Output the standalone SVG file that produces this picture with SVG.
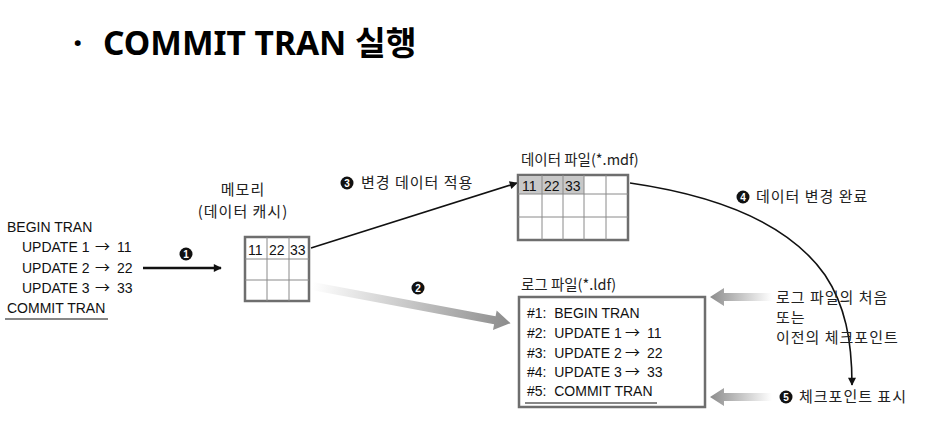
<svg xmlns="http://www.w3.org/2000/svg" width="928" height="428" viewBox="0 0 928 428">
<defs>
<style>
.t{font-family:"Liberation Sans",Arial,sans-serif;font-size:14px;fill:#111}
.a{font-family:"Noto Sans CJK KR","DejaVu Sans",sans-serif;font-size:15px}
.k{font-family:"Noto Sans CJK KR","Noto Sans",sans-serif;font-size:15px;letter-spacing:1px;fill:#222}
.f{font-family:"Noto Sans CJK KR","Noto Sans",sans-serif;font-size:14.5px;fill:#222}
.n{font-family:"Liberation Sans",Arial,sans-serif;font-size:10px;font-weight:bold;fill:#fff;text-anchor:middle}
.outer{fill:#fff;stroke:#6e6e6e;stroke-width:2.5}
.inner{stroke:#8a8a8a;stroke-width:1;fill:none}
.ln{stroke:#111;fill:none}
</style>
<marker id="ahs" viewBox="0 0 10 10" refX="9" refY="5" markerWidth="9" markerHeight="8" orient="auto" markerUnits="userSpaceOnUse">
<path d="M0,0 L10,5 L0,10 z" fill="#111"/>
</marker>
<linearGradient id="g2" x1="0" y1="0" x2="1" y2="0">
<stop offset="0" stop-color="#fff"/>
<stop offset="1" stop-color="#8c8c8c"/>
</linearGradient>
<linearGradient id="gl" x1="0" y1="0" x2="1" y2="0">
<stop offset="0" stop-color="#8c8c8c"/>
<stop offset="1" stop-color="#fff"/>
</linearGradient>
</defs>
<rect width="928" height="428" fill="#fff"/>

<g id="title" style="font-family:'Noto Sans','Noto Sans CJK KR',sans-serif;font-size:33.5px;font-weight:bold;fill:#000">
<text x="73" y="55">·</text>
<text x="103" y="55">COMMIT TRAN 실행</text>
</g>

<g id="connectors">
<line class="ln" x1="143" y1="268" x2="221" y2="268" stroke-width="2.5" marker-end="url(#ahs)"/>
<line class="ln" x1="311" y1="248" x2="517" y2="183" stroke-width="1.6" marker-end="url(#ahs)"/>
<path class="ln" d="M630,183 C720,196 790,225 825,275 C845,305 852,340 852,385" stroke-width="1.6" marker-end="url(#ahs)"/>
<g transform="translate(312,286) rotate(10.6)">
<path d="M0,-4 L186,-4 L186,-10 L202,0 L186,10 L186,4 L0,4 z" fill="url(#g2)"/>
</g>
<path d="M710,297 L724,288 L724,293 L772,293 L772,301 L724,301 L724,306 z" fill="url(#gl)"/>
<path d="M710,397 L724,388 L724,393 L772,393 L772,401 L724,401 L724,406 z" fill="url(#gl)"/>
</g>

<g id="transaction">
<text class="t" x="7" y="232">BEGIN TRAN</text>
<text class="t" x="22" y="252">UPDATE 1 <tspan class="a" x="95">→</tspan><tspan x="117">11</tspan></text>
<text class="t" x="22" y="273">UPDATE 2 <tspan class="a" x="95">→</tspan><tspan x="117">22</tspan></text>
<text class="t" x="22" y="293">UPDATE 3 <tspan class="a" x="95">→</tspan><tspan x="117">33</tspan></text>
<text class="t" x="7" y="313">COMMIT TRAN</text>
<line x1="5" y1="319" x2="108" y2="319" stroke="#111" stroke-width="1.2"/>
</g>

<g id="label1">
<circle cx="186" cy="254" r="6.5" fill="#111"/>
<text class="n" x="186" y="257.5">1</text>
</g>

<g id="memory">
<text class="k" x="243" y="195" text-anchor="middle">메모리</text>
<text class="k" x="243" y="217" text-anchor="middle">(데이터 캐시)</text>
<rect class="outer" x="245" y="237" width="64" height="64"/>
<path class="inner" d="M267,237 V301 M289,237 V301 M245,259 H309 M245,280 H309"/>
<text class="t" x="248" y="255">11</text>
<text class="t" x="269" y="255">22</text>
<text class="t" x="290" y="255">33</text>
</g>

<g id="label2">
<circle cx="418" cy="288" r="6.5" fill="#111"/>
<text class="n" x="418" y="291.5">2</text>
</g>

<g id="label3">
<circle cx="347" cy="183" r="6.5" fill="#111"/>
<text class="n" x="347" y="186.5">3</text>
<text class="k" x="361" y="188">변경 데이터 적용</text>
</g>

<g id="datafile">
<text class="f" x="521" y="165">데이터 파일(*.mdf)</text>
<rect class="outer" x="518" y="175" width="110" height="65"/>
<rect x="519" y="176" width="65" height="18" fill="#c8c8c8"/>
<path class="inner" d="M542,175 V240 M563,175 V240 M584,175 V240 M606,175 V240 M518,194 H628 M518,217 H628"/>
<text class="t" x="522" y="191">11</text>
<text class="t" x="544" y="191">22</text>
<text class="t" x="565" y="191">33</text>
</g>

<g id="label4">
<circle cx="743" cy="197" r="6.5" fill="#111"/>
<text class="n" x="743" y="200.5">4</text>
<text class="k" x="756" y="202">데이터 변경 완료</text>
</g>

<g id="logfile">
<text class="f" x="521" y="290">로그 파일(*.ldf)</text>
<rect class="outer" x="519" y="297" width="186" height="110"/>
<text class="t" x="527" y="318">#1:&#160;&#160;BEGIN TRAN</text>
<text class="t" x="527" y="338">#2:&#160;&#160;UPDATE 1 <tspan class="a" x="625">→</tspan><tspan x="647">11</tspan></text>
<text class="t" x="527" y="358">#3:&#160;&#160;UPDATE 2 <tspan class="a" x="625">→</tspan><tspan x="647">22</tspan></text>
<text class="t" x="527" y="377">#4:&#160;&#160;UPDATE 3 <tspan class="a" x="625">→</tspan><tspan x="647">33</tspan></text>
<text class="t" x="527" y="396">#5:&#160;&#160;COMMIT TRAN</text>
<line x1="525" y1="403" x2="657" y2="403" stroke="#111" stroke-width="1.2"/>
</g>

<g id="checkpoint-start">
<text class="k" x="776" y="303">로그 파일의 처음</text>
<text class="k" x="776" y="323">또는</text>
<text class="k" x="776" y="343">이전의 체크포인트</text>
</g>

<g id="label5">
<circle cx="786" cy="397" r="6.5" fill="#111"/>
<text class="n" x="786" y="400.5">5</text>
<text class="k" x="799" y="402">체크포인트 표시</text>
</g>
</svg>
